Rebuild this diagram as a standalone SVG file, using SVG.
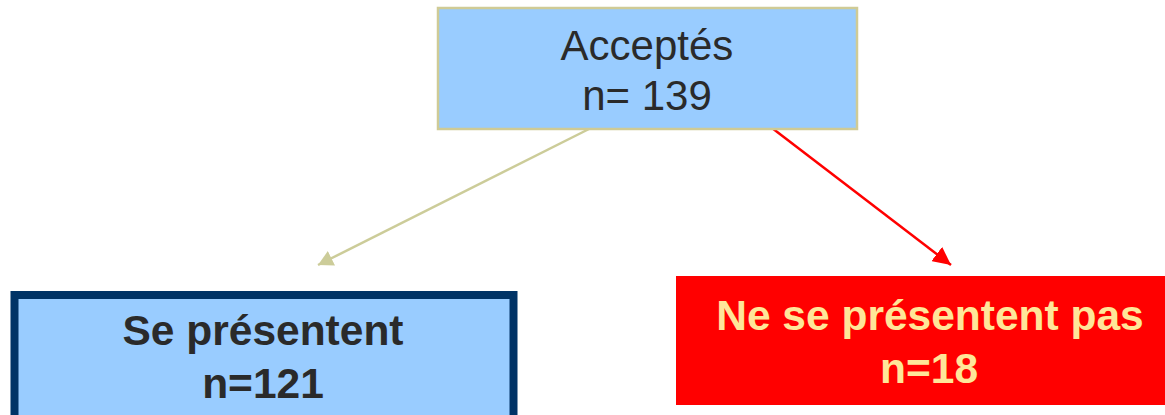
<svg xmlns="http://www.w3.org/2000/svg" width="1165" height="415" viewBox="0 0 1165 415">
<style>
.t{font-family:"Liberation Sans",Arial,sans-serif;text-anchor:middle}
.reg{font-size:42px;fill:#2a2a2a}
.bold{font-size:42.5px;font-weight:bold}
</style>
<defs>
<marker id="ahTan" markerUnits="userSpaceOnUse" markerWidth="16" markerHeight="16" refX="15" refY="8" orient="auto"><path d="M0,0 L15,8 L0,16 z" fill="#CCCC99"/></marker>
<marker id="ahRed" markerUnits="userSpaceOnUse" markerWidth="19" markerHeight="18" refX="18" refY="9" orient="auto"><path d="M0,0 L18,9 L0,18 z" fill="#FF0000"/></marker>
</defs>
<rect width="1165" height="415" fill="#ffffff"/>
<g id="connectors">
<line x1="589" y1="129" x2="318" y2="265" stroke="#CCCC99" stroke-width="2.5" marker-end="url(#ahTan)"/>
<line x1="772" y1="128" x2="951" y2="265" stroke="#FF0000" stroke-width="2.5" marker-end="url(#ahRed)"/>
</g>
<g id="node-acceptes">
<rect x="438" y="8" width="419" height="121" fill="#99CCFF" stroke="#CFCB96" stroke-width="2.5"/>
<text class="t reg" x="647" y="60">Acceptés</text>
<text class="t reg" x="647" y="110">n= 139</text>
</g>
<g id="node-presentent">
<rect x="14.5" y="295" width="499" height="140" fill="#99CCFF" stroke="#003366" stroke-width="8"/>
<text class="t bold" x="263" y="345" fill="#2a2a2a">Se présentent</text>
<text class="t bold" x="263" y="398" fill="#2a2a2a">n=121</text>
</g>
<g id="node-absents">
<rect x="676" y="276" width="489" height="129" fill="#FF0000"/>
<text class="t bold" x="930" y="330" fill="#FFE699">Ne se présentent pas</text>
<text class="t bold" x="929" y="383" fill="#FFE699">n=18</text>
</g>
</svg>
